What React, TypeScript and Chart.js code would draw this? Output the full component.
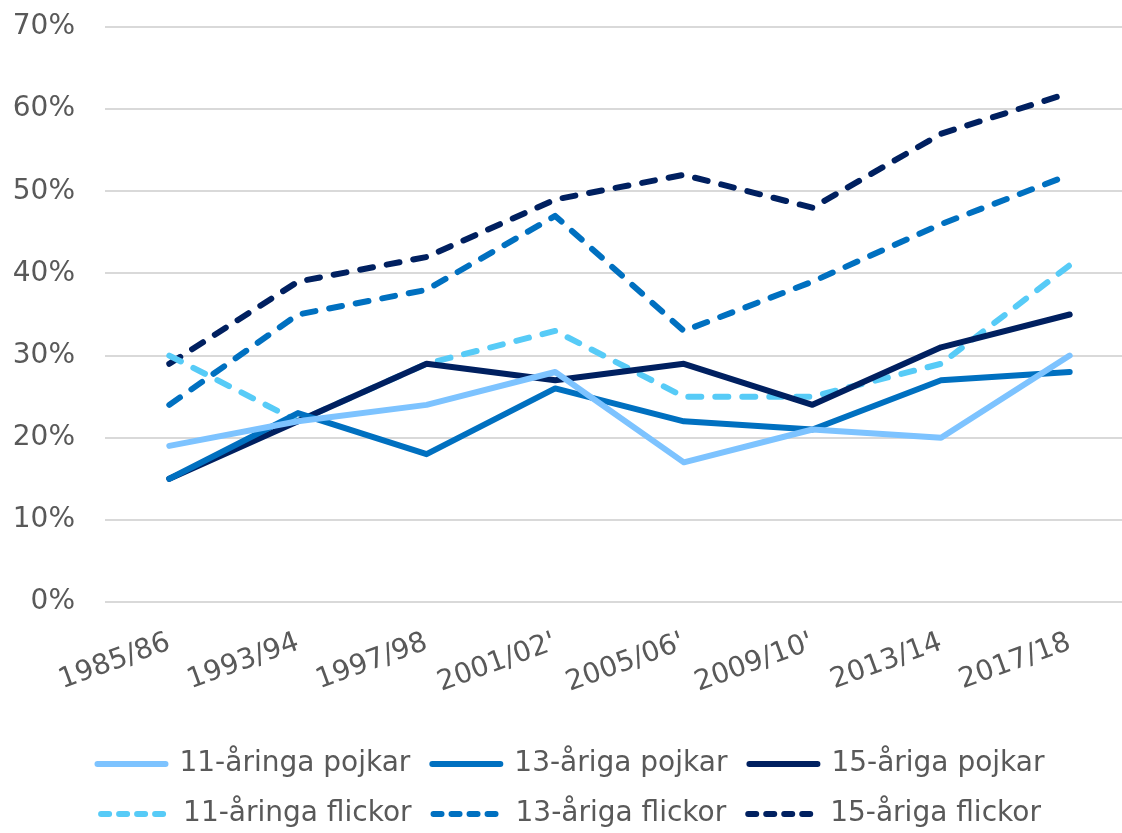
import React, { useEffect, useRef } from "react";
import { Chart, registerables } from "chart.js";

Chart.register(...registerables);

const categories = ["1985/86", "1993/94", "1997/98", "2001/02'", "2005/06'", "2009/10'", "2013/14", "2017/18"];
const yTicks = [0, 10, 20, 30, 40, 50, 60, 70];

const boys11 = [19, 22, 24, 28, 17, 21, 20, 30];
const boys13 = [15, 23, 18, 26, 22, 21, 27, 28];
const boys15 = [15, 22, 29, 27, 29, 24, 31, 35];
const girls11 = [30, 22, 29, 33, 25, 25, 29, 41];
const girls13 = [24, 35, 38, 47, 33, 39, 46, 52];
const girls15 = [29, 39, 42, 49, 52, 48, 57, 62];

const seriesNames = [
  "11-åringa pojkar",
  "13-åriga pojkar",
  "15-åriga pojkar",
  "11-åringa flickor",
  "13-åriga flickor",
  "15-åriga flickor",
];

const FONT = "'DejaVu Sans', Verdana, sans-serif";
const TEXT = "#595959";

export default function App() {
  const ref = useRef<HTMLCanvasElement | null>(null);

  useEffect(() => {
    document.body.style.margin = "0";
    const ctx = ref.current;
    if (!ctx) return;
    const mk = (label: string, data: number[], color: string, dashed: boolean) => ({
      label,
      data,
      borderColor: color,
      backgroundColor: color,
      borderWidth: 6,
      borderDash: dashed ? [13, 14] : [],
      borderCapStyle: "round" as const,
      borderJoinStyle: "round" as const,
      pointRadius: 0,
      pointHoverRadius: 0,
      tension: 0,
      fill: false,
    });
    const chart = new Chart(ctx, {
      type: "line",
      data: {
        labels: categories,
        datasets: [
          mk(seriesNames[0], boys11, "#7DC3FF", false),
          mk(seriesNames[1], boys13, "#0070C0", false),
          mk(seriesNames[2], boys15, "#002060", false),
          mk(seriesNames[3], girls11, "#57CBF7", true),
          mk(seriesNames[4], girls13, "#0070C0", true),
          mk(seriesNames[5], girls15, "#002060", true),
        ],
      },
      options: {
        animation: false,
        responsive: false,
        maintainAspectRatio: false,
        layout: { autoPadding: false, padding: { top: 27, left: 8, right: 0, bottom: 0 } },
        plugins: {
          tooltip: { enabled: false },
          legend: {
            position: "bottom",
            maxHeight: 105,
            padding: { top: 0, bottom: 0, left: 0, right: 0 },
            labels: {
              usePointStyle: true,
              pointStyle: "line",
              pointStyleWidth: 68,
              boxHeight: 28,
              padding: 22,
              font: { family: FONT, size: 28 },
              color: TEXT,
              generateLabels: (c: any) =>
                c.data.datasets.map((ds: any, i: number) => ({
                  text: ds.label,
                  fillStyle: ds.borderColor,
                  strokeStyle: ds.borderColor,
                  fontColor: TEXT,
                  lineWidth: 6,
                  lineDash: ds.borderDash.length ? [8, 10] : [],
                  lineCap: "round",
                  pointStyle: "line",
                  hidden: false,
                  datasetIndex: i,
                })),
            },
          },
        },
        scales: {
          x: {
            type: "category",
            offset: true,
            grid: { display: false, drawTicks: false },
            border: { display: false },
            ticks: {
              minRotation: 20,
              maxRotation: 20,
              padding: 24,
              color: TEXT,
              font: { family: FONT, size: 28 },
            },
            afterFit: (axis: any) => {
              axis.paddingLeft = 0;
              axis.paddingRight = 0;
              axis.height = 126;
            },
          },
          y: {
            min: 0,
            max: 70,
            afterBuildTicks: (axis: any) => {
              axis.ticks = yTicks.map((v) => ({ value: v }));
            },
            grid: { color: "#D9D9D9", lineWidth: 2, drawTicks: false },
            border: { display: false },
            ticks: {
              padding: 30,
              color: TEXT,
              font: { family: FONT, size: 28 },
              callback: (v: any) => v + "%",
            },
            afterFit: (axis: any) => {
              axis.width = 97;
              axis.paddingTop = 0;
              axis.paddingBottom = 0;
            },
          },
        },
      },
    });
    return () => chart.destroy();
  }, []);

  return (
    <div style={{ position: "absolute", left: 0, top: 0, width: 1122, height: 833, overflow: "hidden" }}>
      <canvas ref={ref} width={1134} height={833} style={{ display: "block" }} />
    </div>
  );
}
